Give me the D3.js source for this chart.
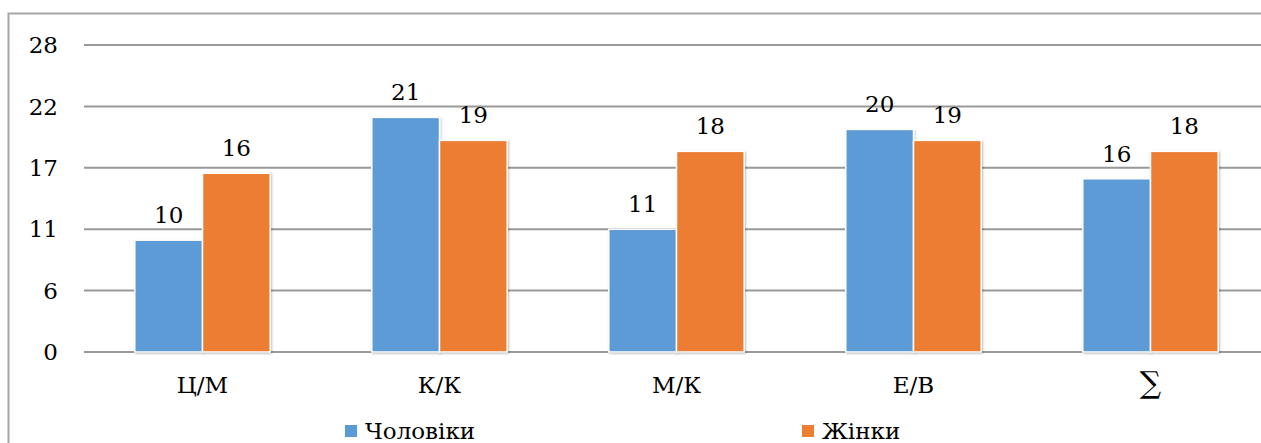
<!DOCTYPE html>
<meta charset="UTF-8">
<style>
    html, body { margin: 0; padding: 0; background: #fff; overflow: hidden; }
    svg { display: block; }
    text { font-family: "DejaVu Serif", serif; font-size: 23px; fill: #000; }
    .grid line { stroke: #999; stroke-width: 2px; }
</style>
<body>
<script src="https://d3js.org/d3.v7.min.js"></script>
<script>

// chart data
var categories = ["Ц/М", "К/К", "М/К", "Е/В", "∑"];
var seriesNames = ["Чоловіки", "Жінки"];
var men   = [10.2, 21.4, 11.2, 20.3, 15.8];
var women = [16.3, 19.3, 18.3, 19.3, 18.3];
var yTicks = [0, 5.6, 11.2, 16.8, 22.4, 28];
var colors = ["#5B9BD5", "#ED7D31"];

var width = 1261, height = 443;

var svg = d3.select("body").append("svg")
    .attr("width", width)
    .attr("height", height);

// soft shadow like the office chart
var defs = svg.append("defs");
var f = defs.append("filter").attr("id", "shadow")
    .attr("x", "-10%").attr("y", "-10%").attr("width", "130%").attr("height", "130%");
f.append("feDropShadow").attr("dx", 1).attr("dy", 1).attr("stdDeviation", 1)
    .attr("flood-color", "#000").attr("flood-opacity", 0.25);

// outer frame: only left and top edges are inside the picture
svg.append("path")
    .attr("d", "M8.5," + height + "V13.5H" + width)
    .attr("fill", "none").attr("stroke", "#a6a6a6").attr("stroke-width", 2);

var x0 = d3.scaleBand().domain(categories).range([84, 1269]);
var x1 = d3.scaleBand().domain(seriesNames).range([0, x0.bandwidth()]).paddingOuter(0.75);
var y = d3.scaleLinear().domain([0, 28]).range([352, 45]);

// gridlines
svg.append("g").attr("class", "grid")
  .selectAll("line")
  .data(yTicks)
  .enter().append("line")
    .attr("x1", 84).attr("x2", width)
    .attr("y1", function(d) { return y(d); })
    .attr("y2", function(d) { return y(d); });

// y labels
svg.append("g")
  .selectAll("text")
  .data(yTicks)
  .enter().append("text")
    .attr("x", 58)
    .attr("y", function(d) { return y(d); })
    .attr("dy", "0.36em")
    .attr("text-anchor", "end")
    .text(function(d) { return d3.format(".0f")(d); });

var rows = categories.map(function(c, i) {
  return { cat: c, vals: [men[i], women[i]] };
});

var groups = svg.append("g").selectAll("g")
  .data(rows)
  .enter().append("g")
    .attr("transform", function(d) { return "translate(" + x0(d.cat) + ",0)"; });

var bars = groups.selectAll("g.bar")
  .data(function(d) {
    return d.vals.map(function(v, j) { return { name: seriesNames[j], v: v, j: j }; });
  })
  .enter().append("g").attr("class", "bar");

bars.append("rect")
    .attr("x", function(d) { return x1(d.name); })
    .attr("width", x1.bandwidth())
    .attr("y", function(d) { return y(d.v); })
    .attr("height", function(d) { return y(0) - y(d.v); })
    .attr("fill", function(d) { return colors[d.j]; })
    .attr("stroke", "#fff")
    .attr("stroke-width", 1.5)
    .attr("filter", "url(#shadow)");

bars.append("text")
    .attr("x", function(d) { return x1(d.name) + x1.bandwidth() / 2; })
    .attr("y", function(d) { return y(d.v) - 17; })
    .attr("text-anchor", "middle")
    .text(function(d) { return d3.format(".0f")(d.v); });

// category labels
svg.append("g")
  .selectAll("text")
  .data(categories)
  .enter().append("text")
    .attr("x", function(d) { return x0(d) + x0.bandwidth() / 2; })
    .attr("y", 393)
    .attr("text-anchor", "middle")
    .style("font-size", function(d) { return d === "∑" ? "30px" : null; })
    .text(function(d) { return d; });

// legend
var legendX = [345, 802];
var legend = svg.append("g").selectAll("g")
  .data(seriesNames)
  .enter().append("g")
    .attr("transform", function(d, i) { return "translate(" + legendX[i] + ",425)"; });

legend.append("rect")
    .attr("width", 12).attr("height", 12)
    .attr("fill", function(d, i) { return colors[i]; });

legend.append("text")
    .attr("x", 20).attr("y", 14)
    .text(function(d) { return d; });

</script>
</body>
